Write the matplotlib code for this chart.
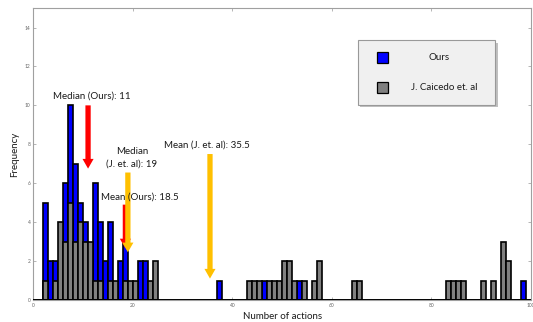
import matplotlib
matplotlib.use("Agg")
import matplotlib.pyplot as plt
from matplotlib.patches import Rectangle

plt.rcParams['font.family'] = ['Lato', 'DejaVu Sans']

# Histogram counts per unit bin (bin start -> count)
ours_bins = [2, 3, 4, 6, 7, 8, 9, 10, 12, 13, 14, 15, 17, 18, 21, 22, 37, 46, 53, 98]
ours_counts = [5, 2, 2, 6, 10, 7, 5, 4, 6, 4, 2, 4, 2, 3, 2, 2, 1, 1, 1, 1]

caicedo_bins = [2, 4, 5, 6, 7, 8, 9, 10, 11, 12, 13, 15, 16, 18, 19, 20, 23, 24,
                43, 44, 45, 47, 48, 49, 50, 51, 52, 54, 56, 57, 64, 65,
                83, 84, 85, 86, 90, 92, 94, 95]
caicedo_counts = [1, 1, 4, 3, 5, 3, 4, 3, 3, 1, 1, 1, 1, 1, 1, 1, 1, 2,
                  1, 1, 1, 1, 1, 1, 2, 2, 1, 1, 1, 2, 1, 1,
                  1, 1, 1, 1, 1, 1, 3, 2]

# Summary statistics marked with arrows: (label, value, arrow top, arrow tip)
stat_labels = ['Median (Ours): 11', 'Mean (Ours): 18.5',
               'Median\n(J. et. al): 19', 'Mean (J. et. al): 35.5']
stat_values = [11, 18.5, 19, 35.5]
arrow_tops = [10.0, 4.9, 6.55, 7.5]
arrow_tips = [6.75, 2.65, 2.45, 1.1]
stat_colors = ['#ff0000', '#ff0000', '#ffc000', '#ffc000']
label_pos = [(11.7, 10.5), (21.4, 5.3), (19.8, 7.3), (34.8, 7.95)]

fig = plt.figure(figsize=(5.33, 3.22), dpi=100)
ax = fig.add_axes([0.0625, 0.0683, 0.9337, 0.9067])

ax.bar(ours_bins, ours_counts, width=1, align='edge', color='#0000ff',
       edgecolor='black', linewidth=1.2, zorder=2)
ax.bar(caicedo_bins, caicedo_counts, width=1, align='edge', color='#808080',
       edgecolor='black', linewidth=1.2, zorder=3)
ax.axhline(0, color='black', lw=1.4, zorder=4)

for lab, val, top, tip, col, (tx, ty) in zip(stat_labels, stat_values, arrow_tops,
                                              arrow_tips, stat_colors, label_pos):
    ax.annotate('', xy=(val, tip), xytext=(val, top),
                arrowprops=dict(arrowstyle='simple,head_length=0.7,head_width=0.8,tail_width=0.38',
                                color=col, lw=0, shrinkA=0, shrinkB=0), zorder=6)
    ax.text(tx, ty, lab, ha='center', va='center', fontsize=7, color='#1a1a1a',
            linespacing=1.5, zorder=7)

ax.set_xlim(0, 100)
ax.set_ylim(0, 15)
ax.set_xticks(range(0, 101, 20))
ax.set_yticks(range(0, 15, 2))
ax.tick_params(direction='in', top=True, right=True, labelsize=3.5,
               labelcolor='#666666', color='#aaaaaa', length=2.5, width=0.6, pad=2)
for sp in ax.spines.values():
    sp.set_color('#a0a0a0')
    sp.set_linewidth(0.8)

ax.set_xlabel('Number of actions', fontsize=7, color='#1a1a1a', labelpad=3)
ax.set_ylabel('Frequency', fontsize=7, color='#1a1a1a', labelpad=4)

# Legend panel drawn by hand so the entries sit like the original layout
tr = ax.transAxes
ax.add_patch(Rectangle((0.657, 0.66), 0.276, 0.222, transform=tr,
                       facecolor='#c0c0c0', edgecolor='none', zorder=8))
ax.add_patch(Rectangle((0.652, 0.668), 0.276, 0.222, transform=tr,
                       facecolor='#f0f0f0', edgecolor='#999999', lw=0.8, zorder=9))
ax.add_patch(Rectangle((0.6906, 0.812), 0.022, 0.037, transform=tr,
                       facecolor='#0000ff', edgecolor='black', lw=0.9, zorder=10))
ax.add_patch(Rectangle((0.6906, 0.709), 0.022, 0.037, transform=tr,
                       facecolor='#808080', edgecolor='black', lw=0.9, zorder=10))
ax.text(0.815, 0.831, 'Ours', transform=tr, ha='center', va='center',
        fontsize=7, color='#1a1a1a', zorder=11)
ax.text(0.825, 0.728, 'J. Caicedo et. al', transform=tr, ha='center', va='center',
        fontsize=7, color='#1a1a1a', zorder=11)

fig.savefig('out.png', dpi=100)
